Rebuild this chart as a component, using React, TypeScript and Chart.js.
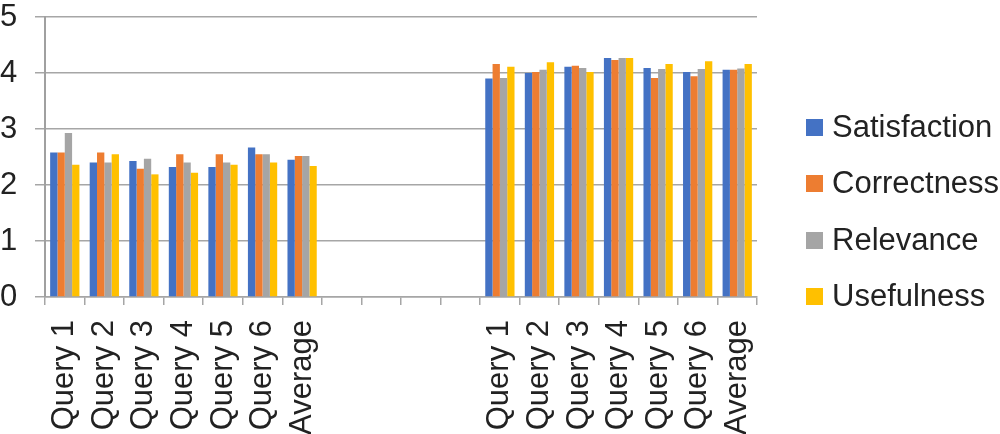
import React, { useEffect, useRef } from "react";
import { Chart, registerables } from "chart.js";

Chart.register(...registerables);

const categories = [
  "Query 1", "Query 2", "Query 3", "Query 4", "Query 5", "Query 6", "Average",
  "", "", "", "",
  "Query 1", "Query 2", "Query 3", "Query 4", "Query 5", "Query 6", "Average",
];

const seriesNames = ["Satisfaction", "Correctness", "Relevance", "Usefulness"];
const seriesColors = ["#4472C4", "#ED7D31", "#A5A5A5", "#FFC000"];

const satisfaction = [2.58, 2.4, 2.43, 2.32, 2.32, 2.67, 2.45, null, null, null, null, 3.9, 4.0, 4.11, 4.27, 4.09, 4.02, 4.06];
const correctness = [2.58, 2.58, 2.29, 2.55, 2.55, 2.55, 2.52, null, null, null, null, 4.16, 4.02, 4.13, 4.23, 3.91, 3.94, 4.06];
const relevance = [2.93, 2.4, 2.47, 2.4, 2.4, 2.55, 2.52, null, null, null, null, 3.91, 4.06, 4.09, 4.27, 4.07, 4.07, 4.08];
const usefulness = [2.36, 2.55, 2.19, 2.22, 2.36, 2.4, 2.34, null, null, null, null, 4.11, 4.19, 4.02, 4.27, 4.16, 4.21, 4.16];

const yTicks = [0, 1, 2, 3, 4, 5];

const FONT = "'Liberation Sans', Arial, Helvetica, sans-serif";
const FONT_SIZE = 31;

export default function App() {
  const ref = useRef<HTMLCanvasElement | null>(null);

  useEffect(() => {
    if (!ref.current) return;
    const values = [satisfaction, correctness, relevance, usefulness];
    const chart = new Chart(ref.current, {
      type: "bar",
      data: {
        labels: categories,
        datasets: seriesNames.map((name, i) => ({
          label: name,
          data: values[i],
          backgroundColor: seriesColors[i],
          borderWidth: 0,
          categoryPercentage: 0.74,
          barPercentage: 1.0,
        })),
      },
      options: {
        responsive: false,
        animation: false,
        layout: { padding: { left: 0, right: 243, top: 0, bottom: 0 } },
        plugins: {
          legend: { display: false },
          tooltip: { enabled: false },
        },
        scales: {
          x: {
            afterFit: (scale: any) => {
              scale.height = 137;
            },
            grid: {
              drawOnChartArea: false,
              drawTicks: true,
              tickLength: 8,
              color: "#A6A6A6",
              lineWidth: 1.5,
              offset: true,
            },
            border: { display: true, color: "#A6A6A6", width: 1.5 },
            ticks: {
              autoSkip: false,
              minRotation: 90,
              maxRotation: 90,
              padding: 15,
              color: "#222222",
              font: { family: FONT, size: FONT_SIZE },
            },
          },
          y: {
            min: 0,
            max: 5,
            afterBuildTicks: (axis: any) => {
              axis.ticks = yTicks.map((v) => ({ value: v }));
            },
            afterFit: (scale: any) => {
              scale.width = 45;
              scale.paddingTop = 17;
            },
            grid: {
              color: "#A6A6A6",
              lineWidth: 1.5,
              tickLength: 10,
              drawTicks: true,
            },
            border: { display: true, color: "#A0A0A0", width: 2 },
            ticks: {
              padding: 8,
              crossAlign: "far",
              color: "#222222",
              font: { family: FONT, size: FONT_SIZE },
            },
          },
        },
      },
    });
    return () => chart.destroy();
  }, []);

  const legendCenters = [127, 183, 240, 296];

  return (
    <div style={{ position: "fixed", left: 0, top: 0, width: 1000, height: 434, background: "#fff" }}>
      <canvas ref={ref} width={1000} height={434} style={{ position: "absolute", left: 0, top: 0 }} />
      {seriesNames.map((name, i) => (
        <div
          key={name}
          style={{
            position: "absolute",
            left: 806,
            top: legendCenters[i] - 20,
            height: 40,
            display: "flex",
            alignItems: "center",
            fontFamily: FONT,
            fontSize: FONT_SIZE,
            color: "#222222",
            whiteSpace: "nowrap",
          }}
        >
          <span style={{ display: "inline-block", width: 17, height: 17, background: seriesColors[i], marginRight: 9, flex: "none" }} />
          <span>{name}</span>
        </div>
      ))}
    </div>
  );
}
